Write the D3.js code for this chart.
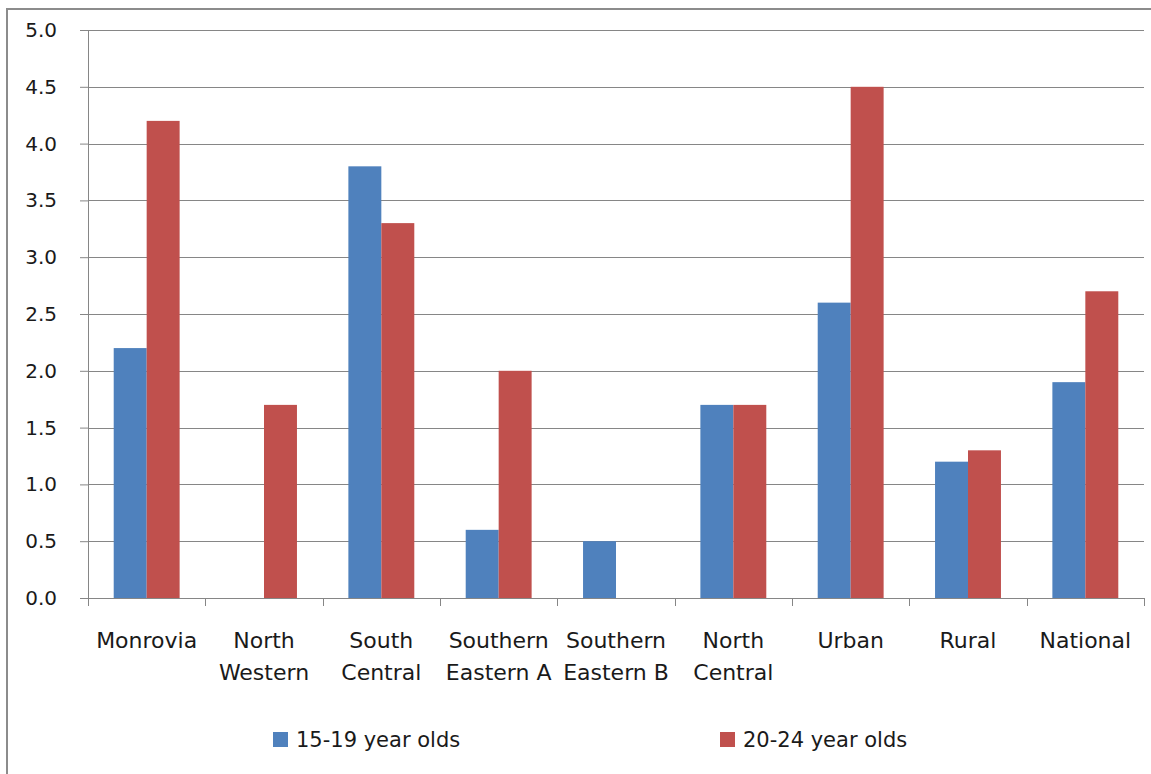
<!DOCTYPE html>
<html><head><meta charset="utf-8">
<script src="https://cdn.jsdelivr.net/npm/d3@7"></script>
<style>body{margin:0;background:#fff;}svg{display:block;}text{font-family:"DejaVu Sans",sans-serif;fill:#1a1a1a;}</style>
</head><body><svg id="c" width="1151" height="774"></svg>
<script>
const categories = ["Monrovia","North Western","South Central","Southern Eastern A","Southern Eastern B","North Central","Urban","Rural","National"];
const categoryLines = [["Monrovia"],["North","Western"],["South","Central"],["Southern","Eastern A"],["Southern","Eastern B"],["North","Central"],["Urban"],["Rural"],["National"]];
const series15_19 = [2.2,0,3.8,0.6,0.5,1.7,2.6,1.2,1.9];
const series20_24 = [4.2,1.7,3.3,2.0,0,1.7,4.5,1.3,2.7];
const seriesNames = ["15-19 year olds","20-24 year olds"];
const seriesColors = ["#4F81BD","#C0504D"];
const yTicks = [0,0.5,1.0,1.5,2.0,2.5,3.0,3.5,4.0,4.5,5.0];

const svg = d3.select("#c");
// outer frame
svg.append("line").attr("x1",7).attr("x2",1151).attr("y1",9).attr("y2",9).attr("stroke","#8c8c8c").attr("stroke-width",2);
svg.append("line").attr("x1",7).attr("x2",7).attr("y1",8).attr("y2",774).attr("stroke","#8c8c8c").attr("stroke-width",2);

const L=88, R=1144, T=30, B=598;
const x = d3.scaleBand().domain(categories).range([L,R]).paddingInner(0).paddingOuter(0);
const y = d3.scaleLinear().domain([0,5]).range([B,T]);
const inner = d3.scaleBand().domain([0,1]).range([0,x.bandwidth()]).paddingOuter(0.78).paddingInner(0);

// gridlines + y ticks
const yAxis = d3.axisLeft(y).tickValues(yTicks).tickFormat(d3.format(".1f")).tickSize(8).tickPadding(23);
const gy = svg.append("g").attr("transform",`translate(${L},0)`).call(yAxis);
gy.select(".domain").remove();
gy.selectAll(".tick line").attr("stroke","#868686");
gy.selectAll(".tick text").attr("font-size",20).attr("fill","#1a1a1a").style("font-family","'DejaVu Sans',sans-serif");
svg.append("g").selectAll("line").data(yTicks.filter(d=>d>0)).join("line")
  .attr("x1",L).attr("x2",R).attr("y1",d=>Math.round(y(d))+0.5).attr("y2",d=>Math.round(y(d))+0.5)
  .attr("stroke","#868686").attr("stroke-width",1);

// bars
const data = categories.map((c,i)=>({c, v:[series15_19[i],series20_24[i]]}));
const g = svg.append("g");
data.forEach(d=>{
  d.v.forEach((v,j)=>{
    if(v<=0) return;
    g.append("rect").attr("x",x(d.c)+inner(j)).attr("width",inner.bandwidth())
      .attr("y",y(v)).attr("height",y(0)-y(v)).attr("fill",seriesColors[j]);
  });
});

// y axis line
svg.append("line").attr("x1",L+0.5).attr("x2",L+0.5).attr("y1",T).attr("y2",B).attr("stroke","#868686");
// x axis
const xAxis = d3.axisBottom(x).tickSize(0).tickFormat("");
const gx = svg.append("g").attr("transform",`translate(0,${B})`).call(xAxis);
gx.select(".domain").attr("stroke","#868686");
svg.append("g").selectAll("line").data(d3.range(categories.length+1)).join("line")
  .attr("x1",i=>Math.round(L+i*x.step())+0.5).attr("x2",i=>Math.round(L+i*x.step())+0.5)
  .attr("y1",B).attr("y2",B+8).attr("stroke","#868686");
svg.append("line").attr("x1",L-8).attr("x2",R).attr("y1",B+0.5).attr("y2",B+0.5).attr("stroke","#868686");

// category labels
categories.forEach((c,i)=>{
  const t = svg.append("text").attr("text-anchor","middle").attr("font-size",22)
    .attr("x",x(c)+x.bandwidth()/2).attr("y",648);
  categoryLines[i].forEach((ln,k)=>{
    t.append("tspan").attr("x",x(c)+x.bandwidth()/2).attr("y",648+k*32).text(ln);
  });
});

// legend
const legX = [273,720];
seriesNames.forEach((n,j)=>{
  svg.append("rect").attr("x",legX[j]).attr("y",732).attr("width",15).attr("height",15).attr("fill",seriesColors[j]);
  svg.append("text").attr("x",legX[j]+23).attr("y",747).attr("font-size",21).text(n);
});
</script></body></html>
